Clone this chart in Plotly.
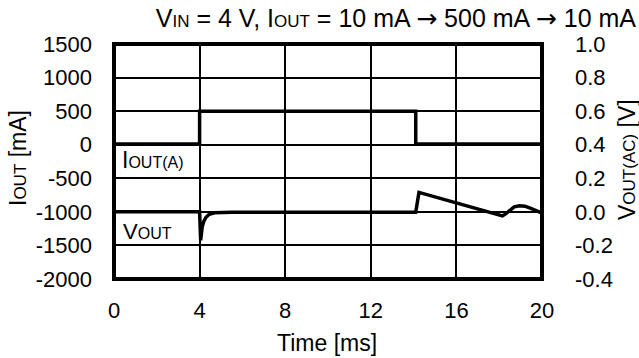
import plotly.graph_objects as go

# ---- data ----
time_iout = [0, 4.0, 4.0, 14.1, 14.1, 20]
iout_ma = [10, 10, 500, 500, 10, 10]

time_vout = [0, 4.0, 4.05, 4.12, 4.2, 4.3, 4.45, 4.7, 5.5, 14.1, 14.25, 18.0, 18.15, 18.3, 18.5, 18.7, 18.95, 19.2, 19.45, 19.7, 20]
vout_ac_v = [0, 0, -0.17, -0.09, -0.055, -0.032, -0.014, -0.005, -0.003, -0.003, 0.116, -0.022, -0.024, -0.012, 0.012, 0.03, 0.036, 0.034, 0.022, 0.008, -0.008]

x_ticks = [0, 4, 8, 12, 16, 20]
x_ticktext = ["0", "4", "8", "12", "16", "20"]
y1_ticks = [1500, 1000, 500, 0, -500, -1000, -1500, -2000]
y1_ticktext = ["1500", "1000", "500", "0", "-500", "-1000", "-1500", "-2000"]
y2_ticks = [1.0, 0.8, 0.6, 0.4, 0.2, 0.0, -0.2, -0.4]
y2_ticktext = ["1.0", "0.8", "0.6", "0.4", "0.2", "0.0", "-0.2", "-0.4"]

FONT = "Liberation Sans, Arial, sans-serif"
ARROW = "<span style='font-family:DejaVu Sans'>\u2192</span>"

fig = go.Figure()
fig.add_trace(go.Scatter(x=time_iout, y=iout_ma, mode="lines",
                         line=dict(color="black", width=3.5), yaxis="y",
                         name="IOUT(A)", showlegend=False))
fig.add_trace(go.Scatter(x=time_vout, y=vout_ac_v, mode="lines",
                         line=dict(color="black", width=3.5),
                         yaxis="y2", name="VOUT", showlegend=False))

L, R, T, B = 114, 97, 44, 79
W, H = 639, 358
pw = W - L - R
ph = H - T - B

def px_x(p):
    return (p - L) / pw

def px_y(p):
    return (H - B - p) / ph

title_text = ("V<span style='font-size:17px'>IN</span> = 4 V, I<span style='font-size:17px'>OUT</span>"
              " = 10 mA " + ARROW + " 500 mA " + ARROW + " 10 mA")

fig.update_layout(
    width=W, height=H, autosize=False,
    margin=dict(l=L, r=R, t=T, b=B, pad=0),
    paper_bgcolor="white", plot_bgcolor="white",
    font=dict(family=FONT, size=22, color="black"),
    title=dict(
        text=title_text,
        xref="container", yref="container", x=636 / W, xanchor="right",
        y=1 - 18 / H, yanchor="middle", font=dict(size=25, family=FONT, color="black")),
    xaxis=dict(range=[0, 20], tickvals=x_ticks, ticktext=x_ticktext,
               showgrid=True, gridcolor="black", gridwidth=1.5, zeroline=False,
               showline=False, ticks="", ticklabelstandoff=16, fixedrange=True),
    yaxis=dict(range=[-2000, 1500], tickvals=y1_ticks, ticktext=y1_ticktext,
               showgrid=True, gridcolor="black", gridwidth=1.5, zeroline=False,
               showline=False, ticks="", ticklabelstandoff=21),
    yaxis2=dict(range=[-0.4, 1.0], tickvals=y2_ticks, ticktext=y2_ticktext,
                overlaying="y", side="right", showgrid=False, zeroline=False,
                showline=False, ticks="", ticklabelstandoff=32),
    shapes=[dict(type="rect", xref="paper", yref="paper", x0=0, x1=1, y0=0, y1=1,
                 line=dict(color="black", width=4), layer="above")],
)

anns = [
    dict(text="I<span style='font-size:16px'>OUT(A)</span>", x=0.27, y=-225,
         xref="x", yref="y", xanchor="left", yanchor="middle", showarrow=False,
         font=dict(size=23)),
    dict(text="V<span style='font-size:16px'>OUT</span>", x=0.35, y=-1290,
         xref="x", yref="y", xanchor="left", yanchor="middle", showarrow=False,
         font=dict(size=22)),
    dict(text="Time [ms]", x=px_x(327), y=px_y(342.5), xref="paper", yref="paper",
         xanchor="center", yanchor="middle", showarrow=False, font=dict(size=23)),
    dict(text="I<span style='font-size:17px'>OUT</span> [mA]", x=px_x(18), y=px_y(158),
         xref="paper", yref="paper", xanchor="center", yanchor="middle",
         showarrow=False, textangle=-90, font=dict(size=23)),
    dict(text="V<span style='font-size:17px'>OUT(AC)</span> [V]", x=px_x(627), y=px_y(160),
         xref="paper", yref="paper", xanchor="center", yanchor="middle",
         showarrow=False, textangle=-90, font=dict(size=23)),
]
fig.update_layout(annotations=anns)

fig.write_html("out.html",
               config={"displayModeBar": False},
               post_script="document.body.style.margin='0';document.body.style.overflow='hidden';")
